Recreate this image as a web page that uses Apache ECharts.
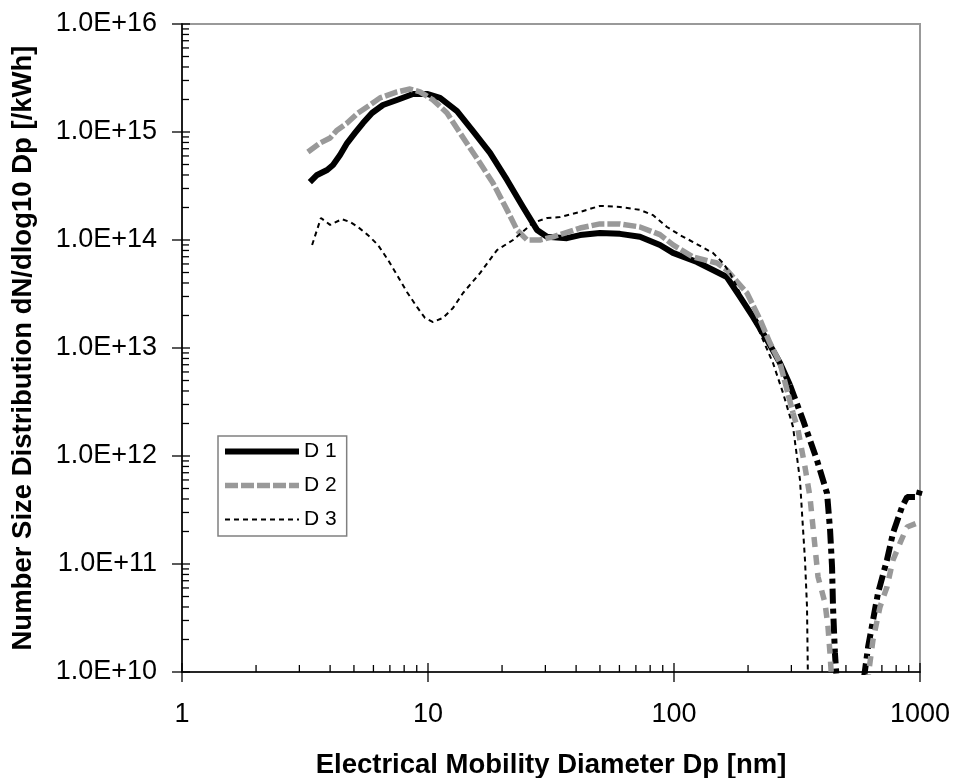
<!DOCTYPE html>
<html><head><meta charset="utf-8">
<script src="https://cdn.jsdelivr.net/npm/echarts@6/dist/echarts.min.js"></script>
<style>html,body{margin:0;padding:0;background:#fff}#c{width:953px;height:778px}</style>
</head><body><div id="c"></div>
<script>
// ---- data ----
const seriesNames = ['D 1', 'D 2', 'D 3'];
const xTitle = 'Electrical Mobility Diameter Dp [nm]';
const yTitle = 'Number Size Distribution dN/dlog10 Dp [/kWh]';

const d1Dp = [3.31,3.54,3.89,4.11,4.39,4.69,5.05,5.44,5.92,6.56,7.48,8.69,9.91,11.19,13.12,15.24,17.87,20.95,24.33,27.74,30.46,36.7,41.5,50.0,60.3,72.7,87.7,99.1,124,144,164,185.5,209.5,238.8,269.7,296,
              334.5,381,419,431,439,443,451,460,519,587,615,644,675,734,777,845,886,982,1000];
const d1N  = [3.44e14,4.0e14,4.45e14,4.95e14,6.12e14,7.9e14,9.8e14,1.21e15,1.50e15,1.78e15,1.98e15,2.25e15,2.25e15,2.07e15,1.56e15,1.02e15,6.4e14,3.6e14,2.02e14,1.24e14,1.07e14,1.04e14,1.11e14,1.16e14,1.14e14,1.07e14,9.0e13,7.6e13,6.26e13,5.27e13,4.54e13,2.97e13,1.94e13,1.19e13,7.26e12,4.54e12,
              2.15e12,9.2e11,4.5e11,2.06e11,9.4e10,4.0e10,1.5e10,7.6e9,1e8,7.6e9,1.7e10,3.0e10,5.38e10,1.09e11,1.94e11,3.37e11,4.17e11,4.17e11,4.84e11];
const d1DashFrom = 35;   // index where the dash-dot tail starts

const d2Dp = [3.25,3.64,4.00,4.27,4.69,5.19,5.81,6.38,7.48,8.45,9.28,10.48,11.95,13.49,16.27,18.37,20.95,23.0,25.3,28.5,32.2,41.5,50.0,60.3,72.7,87.7,99.1,119.5,149.6,164,198,224,245.6,269.7,304.7,
              319.3,340.8,357.1,367.3,385,411,422.7,430.6,438.8,519,609,644,687.6,734,776.8,829.3,885.6,1000];
const d2N  = [6.53e14,7.9e14,8.8e14,1.04e15,1.21e15,1.50e15,1.78e15,2.07e15,2.35e15,2.50e15,2.35e15,1.98e15,1.50e15,9.8e14,5.17e14,3.37e14,1.90e14,1.24e14,1.0e14,1.0e14,1.07e14,1.29e14,1.41e14,1.41e14,1.32e14,1.12e14,9.0e13,6.97e13,6.12e13,5.27e13,3.23e13,1.82e13,1.11e13,7.26e12,2.5e12,
              1.74e12,7.9e11,4.17e11,2.2e11,7.6e10,4.36e10,2.61e10,1.5e10,7.6e9,1e8,7.6e9,1.98e10,4.0e10,6.12e10,1.09e11,1.56e11,2.2e11,2.45e11];
const d2DashFrom = 34;

const d3Dp = [3.38,3.67,4.00,4.47,4.82,5.19,5.70,6.26,6.88,7.48,8.21,9.02,9.72,10.48,11.51,12.64,13.88,16.27,19.08,22.16,26.7,30.5,34.4,41.5,50.0,60.3,72.7,82.1,93.6,105.8,119.5,144.1,158.2,168.9,198.1,223.7,252.6,277.5,304.7,325.2,331.4,340.8,347.3,350.5];
const d3N  = [9.0e13,1.60e14,1.38e14,1.56e14,1.47e14,1.32e14,1.11e14,9.0e13,6.53e13,4.74e13,3.3e13,2.4e13,1.90e13,1.74e13,1.90e13,2.35e13,3.23e13,4.94e13,8.07e13,1.0e14,1.44e14,1.60e14,1.63e14,1.82e14,2.07e14,2.02e14,1.90e14,1.70e14,1.32e14,1.11e14,9.58e13,7.58e13,6.12e13,4.94e13,2.4e13,1.38e13,7.26e12,3.83e12,1.86e12,6.0e11,2.97e11,1.09e11,4.0e10,7.6e9];

// axis tick values (log decades with 2..9 minor ticks)
const xDecades = [1, 10, 100];
const yDecades = [1e10, 1e11, 1e12, 1e13, 1e14, 1e15];
const xMax = 1000, yMax = 1e16;
const xMin = 1, yMin = 1e10;

// ---- build ----
const FONT = '"Liberation Sans", Arial, sans-serif';
function pairs(xs, ys, a, b) { const out = []; for (let i = a; i < b; i++) out.push([xs[i], ys[i]]); return out; }
function tickList(decades, maxV) { const t = []; decades.forEach(d => { for (let k = 1; k <= 9; k++) t.push(d * k); }); t.push(maxV); return t; }
const xTicks = tickList(xDecades, xMax);
const yTicks = tickList(yDecades, yMax);
function isMajor(v) { const L = Math.log10(v); return Math.abs(L - Math.round(L)) < 1e-6; }

const lineBase = { type: 'line', symbol: 'none', showSymbol: false, silent: true, smooth: false };

const option = {
  animation: false,
  backgroundColor: '#ffffff',
  grid: { left: 182, right: 33, top: 24, bottom: 106, containLabel: false, outerBoundsMode: 'none',
          show: true, borderColor: '#999999', borderWidth: 2, backgroundColor: 'transparent' },
  xAxis: {
    type: 'log', logBase: 10, min: xMin, max: xMax,
    axisLine: { show: true, lineStyle: { color: '#000', width: 1.6 } },
    axisTick: { show: false }, minorTick: { show: false },
    splitLine: { show: false }, minorSplitLine: { show: false },
    axisLabel: { margin: 29, color: '#000', fontFamily: FONT, fontSize: 27, formatter: v => String(Math.round(v)) },
    name: xTitle, nameLocation: 'middle', nameGap: 79,
    nameTextStyle: { color: '#000', fontFamily: FONT, fontSize: 27.5, fontWeight: 'bold' }
  },
  yAxis: {
    type: 'log', logBase: 10, min: yMin, max: yMax,
    axisLine: { show: true, lineStyle: { color: '#000', width: 1.6 } },
    axisTick: { show: false }, minorTick: { show: false },
    splitLine: { show: false }, minorSplitLine: { show: false },
    axisLabel: { margin: 25, color: '#000', fontFamily: FONT, fontSize: 27, formatter: v => Number(v).toExponential(1).toUpperCase() },
    name: yTitle, nameLocation: 'middle', nameGap: 145,
    nameTextStyle: { color: '#000', fontFamily: FONT, fontSize: 27.5, fontWeight: 'bold' }
  },
  legend: {
    data: seriesNames, orient: 'vertical', left: 218, top: 436,
    itemWidth: 74, itemHeight: 14, itemGap: 13, padding: [5, 10, 6, 4],
    borderColor: '#808080', borderWidth: 1.5, borderRadius: 0, backgroundColor: '#fff',
    itemStyle: { opacity: 0 },
    lineStyle: { width: 'inherit', type: 'inherit', color: 'inherit', cap: 'butt' },
    textStyle: { fontFamily: FONT, fontSize: 21, color: '#000' }, selectedMode: false
  },
  series: [
    Object.assign({}, lineBase, { name: seriesNames[0], z: 2, data: pairs(d1Dp, d1N, 0, d1DashFrom + 1),
      itemStyle: { color: '#000' },
      lineStyle: { color: '#000', width: 6, cap: 'butt', join: 'round' } }),
    Object.assign({}, lineBase, { name: 'D 1 tail', z: 2, data: pairs(d1Dp, d1N, d1DashFrom, d1Dp.length),
      itemStyle: { color: '#000' },
      lineStyle: { color: '#000', width: 6, type: [15, 5, 5, 5], cap: 'butt' } }),
    Object.assign({}, lineBase, { name: seriesNames[1], z: 3, data: pairs(d2Dp, d2N, 0, d2DashFrom + 1),
      itemStyle: { color: '#999999' },
      lineStyle: { color: '#999999', width: 5.5, type: [13, 3], cap: 'butt', join: 'round' } }),
    Object.assign({}, lineBase, { name: 'D 2 tail', z: 3, data: pairs(d2Dp, d2N, d2DashFrom, d2Dp.length),
      itemStyle: { color: '#999999' },
      lineStyle: { color: '#999999', width: 5.5, type: [10, 8], cap: 'butt' } }),
    Object.assign({}, lineBase, { name: seriesNames[2], z: 4, data: pairs(d3Dp, d3N, 0, d3Dp.length),
      itemStyle: { color: '#000' },
      lineStyle: { color: '#000', width: 2, type: [5, 4], cap: 'butt' } }),
    {
      type: 'custom', silent: true, clip: false, z: 6,
      data: xTicks.map(v => [v, yMin]),
      renderItem: (p, api) => {
        const v = api.value(0); const pt = api.coord([v, yMin]); const m = isMajor(v);
        return { type: 'line', shape: { x1: pt[0], y1: pt[1] - (m ? 9 : 7), x2: pt[0], y2: pt[1] + (m ? 10 : 0) },
                 style: { stroke: '#000', lineWidth: 1.3 } };
      }
    },
    {
      type: 'custom', silent: true, clip: false, z: 6,
      data: yTicks.map(v => [xMin, v]),
      renderItem: (p, api) => {
        const v = api.value(1); const pt = api.coord([xMin, v]); const m = isMajor(v);
        return { type: 'line', shape: { x1: pt[0] - (m ? 10 : 0), y1: pt[1], x2: pt[0] + (m ? 8 : 7), y2: pt[1] },
                 style: { stroke: '#000', lineWidth: 1.3 } };
      }
    }
  ]
};
const chart = echarts.init(document.getElementById('c'), null, { renderer: 'canvas' });
chart.setOption(option);
</script></body></html>
